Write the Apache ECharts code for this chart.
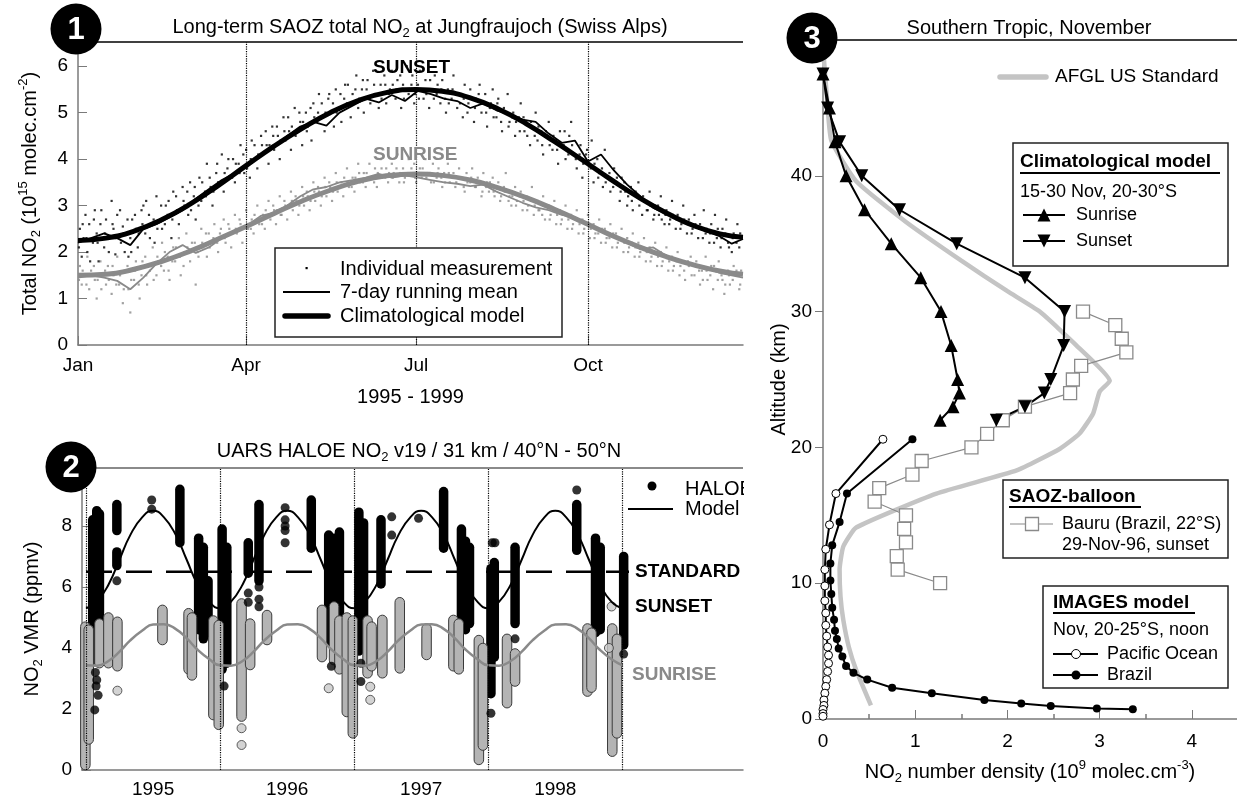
<!DOCTYPE html>
<html><head><meta charset="utf-8">
<script src="https://cdn.jsdelivr.net/npm/echarts@6/dist/echarts.min.js"></script>
<style>html,body{margin:0;padding:0;background:#fff}#c{width:1237px;height:798px}</style>
</head><body><div id="c"></div>
<script>
// ---------------- Panel 1 data ----------------
const monthTickDays = [0, 90, 181, 273];
const monthTickLabels = ['Jan', 'Apr', 'Jul', 'Oct'];
const p1YTicks = [0, 1, 2, 3, 4, 5, 6];
const modelDays = [0,15,30,45,60,75,90,105,120,135,150,165,181,195,210,225,240,255,270,285,300,315,330,345,356];
const sunsetModel = [2.25,2.3,2.45,2.7,3.03,3.43,3.86,4.28,4.66,5.0,5.26,5.43,5.5,5.46,5.32,5.08,4.76,4.38,3.98,3.57,3.18,2.84,2.56,2.38,2.32];
const sunriseModel = [1.5,1.52,1.63,1.8,2.02,2.28,2.55,2.83,3.1,3.33,3.52,3.64,3.68,3.65,3.55,3.38,3.17,2.92,2.65,2.37,2.12,1.9,1.72,1.58,1.52];
const runDays = [0,7,14,21,28,35,42,49,56,63,70,77,84,91,98,105,112,119,126,133,140,147,154,161,168,175,182,189,196,203,210,217,224,231,238,245,252,259,266,273,280,287,294,301,308,315,322,329,336,343,350,356];
const sunsetRun = [2.2,2.3,2.4,2.3,2.15,2.5,2.6,2.75,2.9,3.15,3.35,3.55,3.7,3.9,4.1,4.25,4.5,4.7,4.8,4.72,5.0,5.15,5.3,5.22,5.38,5.25,5.47,5.4,5.3,5.25,5.1,5.2,5.05,4.97,4.85,4.8,4.55,4.35,4.4,3.95,4.1,3.75,3.45,3.2,2.95,2.82,2.7,2.56,2.45,2.35,2.18,2.28];
const sunriseRun = [1.45,1.5,1.45,1.38,1.2,1.45,1.75,2.0,2.15,1.98,2.1,2.3,2.42,2.58,2.78,2.85,3.0,3.2,3.35,3.4,3.5,3.55,3.6,3.68,3.6,3.65,3.6,3.55,3.5,3.47,3.42,3.45,3.3,3.18,3.06,2.96,2.9,2.8,2.74,2.6,2.47,2.36,2.2,2.06,2.1,1.92,1.8,1.72,1.65,1.56,1.5,1.45];
const sunsetDots = [[1,2.5],[2,1.9],[3,2.3],[4,2.8],[5,2.0],[6,2.6],[8,2.2],[9,2.9],[10,2.4],[11,1.8],[12,2.6],[14,2.1],[15,2.7],[16,2.35],[18,3.1],[19,2.5],[20,1.95],[21,2.8],[23,2.2],[24,2.55],[25,2.0],[27,1.9],[28,2.3],[29,2.7],[31,2.5],[32,2.1],[34,2.9],[35,3.0],[36,2.4],[38,2.8],[39,2.6],[41,2.2],[42,3.2],[44,2.7],[45,2.5],[47,3.0],[48,2.8],[50,2.3],[51,3.3],[53,2.9],[54,2.6],[56,3.4],[57,3.0],[59,2.8],[60,3.5],[62,3.2],[63,2.7],[65,3.6],[66,3.1],[68,3.3],[69,3.9],[71,3.4],[72,3.0],[74,3.7],[75,3.5],[77,4.1],[78,3.3],[80,3.8],[81,3.6],[83,4.0],[84,3.5],[86,3.9],[87,4.3],[89,3.7],[90,4.2],[92,3.6],[93,4.4],[95,4.0],[96,3.8],[98,4.5],[99,4.1],[101,4.3],[102,3.9],[104,4.7],[105,4.2],[107,4.5],[108,4.0],[110,4.9],[111,4.4],[113,4.6],[114,4.2],[116,5.1],[117,4.6],[119,4.8],[120,4.3],[122,5.0],[123,4.7],[125,4.4],[126,5.2],[128,4.8],[129,5.4],[131,4.9],[132,4.6],[134,5.3],[135,5.0],[137,4.7],[138,5.5],[140,5.1],[141,4.8],[143,5.6],[144,5.2],[146,4.9],[147,5.4],[149,5.8],[150,5.1],[152,5.5],[153,5.0],[155,5.7],[156,5.3],[158,5.9],[159,5.4],[161,5.1],[162,5.6],[164,5.8],[165,5.2],[167,5.5],[168,5.9],[170,5.3],[171,5.7],[173,5.1],[174,5.6],[176,6.0],[177,5.4],[179,5.8],[180,5.2],[182,5.6],[183,5.9],[185,5.3],[186,5.7],[188,5.1],[189,5.5],[191,5.8],[192,5.4],[194,5.2],[195,5.7],[197,5.0],[198,5.5],[200,5.3],[201,5.8],[203,5.1],[204,5.4],[206,4.9],[207,5.6],[209,5.2],[210,5.5],[212,4.8],[213,5.3],[215,5.6],[216,5.0],[218,5.4],[219,4.7],[221,5.2],[222,5.5],[224,4.9],[225,5.3],[227,4.6],[228,5.1],[230,5.4],[231,4.8],[233,5.0],[234,4.5],[236,4.9],[237,5.2],[239,4.6],[240,4.8],[242,4.3],[243,4.7],[245,5.0],[246,4.4],[248,4.6],[249,4.1],[251,4.5],[252,4.8],[254,4.2],[255,4.4],[257,3.9],[258,4.6],[260,4.3],[261,4.0],[263,4.5],[264,4.8],[266,4.1],[267,3.8],[269,4.3],[270,3.6],[272,4.1],[273,3.9],[275,4.4],[276,3.5],[278,4.0],[279,3.7],[281,3.4],[282,4.2],[284,3.6],[285,3.3],[287,3.8],[288,3.5],[290,3.1],[291,3.6],[293,3.3],[294,3.0],[296,3.4],[297,2.9],[299,3.2],[300,3.5],[302,2.8],[303,3.1],[305,2.9],[306,3.3],[308,2.7],[309,3.0],[311,2.8],[312,3.2],[314,2.6],[315,2.9],[317,2.7],[318,3.1],[320,2.5],[321,2.8],[323,2.6],[324,3.0],[326,2.4],[327,2.7],[329,2.5],[330,2.8],[332,2.3],[333,2.6],[335,2.9],[336,2.4],[338,2.2],[339,2.6],[341,2.8],[342,2.3],[344,2.1],[345,2.5],[347,2.7],[348,2.2],[350,2.0],[351,2.4],[353,2.6],[354,2.1],[355,2.3]];
const sunsetDots2 = [[0.5,2.1],[2.5,2.6],[4.5,2.3],[6.5,1.8],[8.5,2.7],[10.5,2.2],[12.5,2.9],[14.5,2.4],[16.5,2.0],[18.5,2.6],[20.5,2.3],[22.5,2.9],[24.5,2.4],[26.5,2.7],[28.5,2.0],[30.5,2.8],[32.5,2.4],[34.5,2.6],[36.5,3.1],[38.5,2.3],[40.5,2.7],[42.5,2.5],[44.5,3.0],[46.5,2.6],[48.5,3.1],[50.5,2.7],[52.5,3.2],[54.5,2.9],[56.5,3.1],[58.5,3.3],[60.5,2.9],[62.5,3.4],[64.5,3.0],[66.5,3.5],[68.5,3.2],[70.5,3.6],[72.5,3.3],[74.5,3.9],[76.5,3.5],[78.5,3.7],[80.5,4.0],[82.5,3.6],[84.5,3.9],[86.5,3.7],[88.5,4.1],[90.5,3.8],[92.5,4.0],[94.5,4.3],[96.5,4.1],[98.5,4.3],[100.5,4.6],[102.5,4.3],[104.5,4.5],[106.5,4.7],[108.5,4.4],[110.5,4.6],[112.5,4.9],[114.5,4.7],[116.5,4.5],[118.5,5.0],[120.5,4.8],[122.5,4.6],[124.5,5.1],[126.5,4.9],[128.5,5.0],[130.5,5.2],[132.5,5.0],[134.5,5.4],[136.5,5.2],[138.5,5.0],[140.5,5.4],[142.5,5.3],[144.5,5.6],[146.5,5.2],[148.5,5.5],[150.5,5.3],[152.5,5.7],[154.5,5.5],[156.5,5.2],[158.5,5.6],[160.5,5.4],[162.5,5.3],[164.5,5.6],[166.5,5.4],[168.5,5.6],[170.5,5.5],[172.5,5.8],[174.5,5.3],[176.5,5.5],[178.5,5.6],[180.5,5.4],[182.5,5.3],[184.5,5.5],[186.5,5.4],[188.5,5.7],[190.5,5.3],[192.5,5.6],[194.5,5.5],[196.5,5.3],[198.5,5.2],[200.5,5.5],[202.5,5.4],[204.5,5.2],[206.5,5.3],[208.5,5.0],[210.5,5.3],[212.5,5.1],[214.5,5.4],[216.5,5.2],[218.5,5.0],[220.5,5.1],[222.5,4.9],[224.5,5.2],[226.5,4.8],[228.5,5.0],[230.5,4.7],[232.5,4.9],[234.5,4.8],[236.5,4.6],[238.5,4.9],[240.5,4.5],[242.5,4.8],[244.5,4.5],[246.5,4.7],[248.5,4.3],[250.5,4.6],[252.5,4.3],[254.5,4.5],[256.5,4.2],[258.5,4.3],[260.5,4.6],[262.5,4.1],[264.5,4.3],[266.5,4.0],[268.5,4.1],[270.5,3.9],[272.5,4.2],[274.5,3.8],[276.5,3.9],[278.5,3.6],[280.5,3.8],[282.5,3.5],[284.5,3.7],[286.5,3.4],[288.5,3.6],[290.5,3.3],[292.5,3.5],[294.5,3.2],[296.5,3.1],[298.5,3.3],[300.5,3.0],[302.5,3.2],[304.5,2.9],[306.5,3.0],[308.5,2.8],[310.5,3.0],[312.5,2.7],[314.5,2.8],[316.5,2.6],[318.5,2.8],[320.5,2.7],[322.5,2.5],[324.5,2.7],[326.5,2.6],[328.5,2.4],[330.5,2.6],[332.5,2.5],[334.5,2.3],[336.5,2.5],[338.5,2.4],[340.5,2.2],[342.5,2.5],[344.5,2.3],[346.5,2.4],[348.5,2.1],[350.5,2.3],[352.5,2.2],[354.5,2.4]];
const sunriseDots = [[1,1.7],[2,1.3],[3,1.5],[5,1.9],[6,1.2],[7,1.6],[9,1.4],[10,1.0],[12,1.8],[13,1.5],[15,1.3],[16,1.7],[18,1.1],[19,1.5],[21,1.9],[22,1.3],[24,0.9],[25,1.6],[27,1.2],[28,0.7],[30,1.4],[31,1.8],[33,1.0],[34,1.5],[36,1.9],[37,1.3],[39,1.7],[40,2.1],[42,1.5],[43,1.8],[45,2.2],[46,1.6],[48,1.9],[49,1.4],[51,2.1],[52,1.8],[54,2.3],[55,1.5],[57,2.0],[58,2.4],[60,1.8],[61,2.2],[63,1.3],[64,2.0],[66,2.5],[67,2.1],[69,1.9],[70,2.4],[72,2.2],[73,2.6],[75,2.0],[76,2.4],[78,2.7],[79,2.2],[81,2.5],[82,2.1],[84,2.8],[85,2.4],[87,2.6],[88,2.2],[90,2.9],[91,2.5],[93,2.7],[94,2.4],[96,3.0],[97,2.6],[99,2.8],[100,2.5],[102,3.1],[103,2.7],[105,2.9],[106,2.6],[108,3.2],[109,2.8],[111,3.0],[112,2.7],[114,3.3],[115,2.9],[117,3.1],[118,2.8],[120,3.4],[121,3.0],[123,3.2],[124,2.9],[126,3.5],[127,3.1],[129,3.3],[130,3.0],[132,3.6],[133,3.2],[135,3.4],[136,3.1],[138,3.7],[139,3.3],[141,3.5],[142,3.2],[144,3.8],[145,3.4],[147,3.6],[148,3.3],[150,3.9],[151,3.5],[153,3.7],[154,3.4],[156,3.9],[157,3.6],[159,3.8],[160,3.4],[162,4.0],[163,3.6],[165,3.8],[166,3.5],[168,3.9],[169,3.7],[171,4.1],[172,3.5],[174,3.8],[175,3.6],[177,4.0],[178,3.7],[180,3.9],[181,3.5],[183,3.8],[184,3.6],[186,4.0],[187,3.7],[189,3.5],[190,3.9],[192,3.6],[193,3.8],[195,3.4],[196,3.7],[198,3.9],[199,3.5],[201,3.7],[202,3.4],[204,3.8],[205,3.6],[207,3.3],[208,3.7],[210,3.5],[211,3.8],[213,3.4],[214,3.6],[216,3.2],[217,3.7],[219,3.5],[220,3.3],[222,3.6],[223,3.2],[225,3.5],[226,3.1],[228,3.4],[229,3.7],[231,3.2],[232,3.0],[234,3.4],[235,3.1],[237,3.3],[238,2.9],[240,3.2],[241,3.0],[243,3.4],[244,2.8],[246,3.1],[247,2.9],[249,3.2],[250,2.7],[252,3.0],[253,2.8],[255,3.1],[256,2.6],[258,2.9],[259,2.7],[261,3.0],[262,2.5],[264,2.8],[265,2.6],[267,2.9],[268,2.4],[270,2.7],[271,2.5],[273,2.8],[274,2.3],[276,2.6],[277,2.4],[279,2.7],[280,2.2],[282,2.5],[283,2.3],[285,2.6],[286,2.1],[288,2.4],[289,2.2],[291,2.5],[292,2.0],[294,2.3],[295,2.1],[297,2.4],[298,1.9],[300,2.2],[301,2.0],[303,2.3],[304,1.8],[306,2.1],[307,1.9],[309,2.2],[310,1.7],[312,2.0],[313,1.8],[315,2.1],[316,1.6],[318,1.9],[319,1.7],[321,2.0],[322,1.5],[324,1.8],[325,1.4],[327,1.7],[328,1.9],[330,1.5],[331,1.8],[333,1.3],[334,1.6],[336,1.9],[337,1.4],[339,1.7],[340,1.2],[342,1.6],[343,1.8],[345,1.4],[346,1.1],[348,1.6],[349,1.3],[351,1.7],[352,1.5],[354,1.2],[355,1.6]];
const sunriseDots2 = [[0.5,1.4],[2.5,1.6],[4.5,1.3],[6.5,1.5],[8.5,1.7],[10.5,1.4],[12.5,1.2],[14.5,1.6],[16.5,1.4],[18.5,1.7],[20.5,1.3],[22.5,1.5],[24.5,1.2],[26.5,1.7],[28.5,1.4],[30.5,1.6],[32.5,1.3],[34.5,1.8],[36.5,1.5],[38.5,1.6],[40.5,1.4],[42.5,1.9],[44.5,1.7],[46.5,2.0],[48.5,1.6],[50.5,1.8],[52.5,2.1],[54.5,1.9],[56.5,1.7],[58.5,2.1],[60.5,2.0],[62.5,2.2],[64.5,1.9],[66.5,2.2],[68.5,2.4],[70.5,2.1],[72.5,2.3],[74.5,2.2],[76.5,2.5],[78.5,2.3],[80.5,2.6],[82.5,2.4],[84.5,2.5],[86.5,2.7],[88.5,2.5],[90.5,2.6],[92.5,2.5],[94.5,2.8],[96.5,2.7],[98.5,2.6],[100.5,2.9],[102.5,2.8],[104.5,3.0],[106.5,2.9],[108.5,2.8],[110.5,3.1],[112.5,3.0],[114.5,3.1],[116.5,3.2],[118.5,3.0],[120.5,3.2],[122.5,3.3],[124.5,3.1],[126.5,3.3],[128.5,3.4],[130.5,3.2],[132.5,3.4],[134.5,3.5],[136.5,3.3],[138.5,3.5],[140.5,3.4],[142.5,3.6],[144.5,3.5],[146.5,3.4],[148.5,3.6],[150.5,3.7],[152.5,3.5],[154.5,3.7],[156.5,3.6],[158.5,3.5],[160.5,3.7],[162.5,3.8],[164.5,3.6],[166.5,3.7],[168.5,3.6],[170.5,3.8],[172.5,3.7],[174.5,3.5],[176.5,3.7],[178.5,3.8],[180.5,3.6],[182.5,3.7],[184.5,3.8],[186.5,3.6],[188.5,3.7],[190.5,3.5],[192.5,3.7],[194.5,3.6],[196.5,3.5],[198.5,3.7],[200.5,3.6],[202.5,3.5],[204.5,3.6],[206.5,3.4],[208.5,3.5],[210.5,3.6],[212.5,3.4],[214.5,3.5],[216.5,3.3],[218.5,3.4],[220.5,3.5],[222.5,3.3],[224.5,3.4],[226.5,3.2],[228.5,3.3],[230.5,3.1],[232.5,3.2],[234.5,3.0],[236.5,3.2],[238.5,3.1],[240.5,2.9],[242.5,3.1],[244.5,3.0],[246.5,2.9],[248.5,2.8],[250.5,3.0],[252.5,2.7],[254.5,2.9],[256.5,2.8],[258.5,2.6],[260.5,2.8],[262.5,2.7],[264.5,2.5],[266.5,2.7],[268.5,2.6],[270.5,2.4],[272.5,2.6],[274.5,2.5],[276.5,2.3],[278.5,2.4],[280.5,2.5],[282.5,2.2],[284.5,2.3],[286.5,2.4],[288.5,2.1],[290.5,2.3],[292.5,2.2],[294.5,2.0],[296.5,2.2],[298.5,2.1],[300.5,1.9],[302.5,2.1],[304.5,2.0],[306.5,1.8],[308.5,2.0],[310.5,1.9],[312.5,1.7],[314.5,1.9],[316.5,1.8],[318.5,1.6],[320.5,1.8],[322.5,1.7],[324.5,1.6],[326.5,1.8],[328.5,1.5],[330.5,1.7],[332.5,1.6],[334.5,1.4],[336.5,1.6],[338.5,1.5],[340.5,1.7],[342.5,1.4],[344.5,1.5],[346.5,1.3],[348.5,1.5],[350.5,1.4],[352.5,1.6],[354.5,1.3]];

// ---------------- Panel 2 data ----------------
const yearLines = [1995, 1996, 1997, 1998, 1999];
const yearLabelPos = [1995.5, 1996.5, 1997.5, 1998.5];
const p2YTicks = [0, 2, 4, 6, 8];
const modelT = [1995.00,1995.08,1995.17,1995.25,1995.33,1995.42,1995.50,1995.58,1995.67,1995.75,1995.83,1995.92,
  1996.00,1996.08,1996.17,1996.25,1996.33,1996.42,1996.50,1996.58,1996.67,1996.75,1996.83,1996.92,
  1997.00,1997.08,1997.17,1997.25,1997.33,1997.42,1997.50,1997.58,1997.67,1997.75,1997.83,1997.92,
  1998.00,1998.08,1998.17,1998.25,1998.33,1998.42,1998.50,1998.58,1998.67,1998.75,1998.83,1998.92,1999.00];
const sunsetModel2 = [5.3,5.51,6.1,6.9,7.7,8.29,8.5,8.29,7.7,6.9,6.1,5.51,
  5.3,5.51,6.1,6.9,7.7,8.29,8.5,8.29,7.7,6.9,6.1,5.51,
  5.3,5.51,6.1,6.9,7.7,8.29,8.5,8.29,7.7,6.9,6.1,5.51,
  5.3,5.51,6.1,6.9,7.7,8.29,8.5,8.29,7.7,6.9,6.1,5.51,5.3];
const sunriseModel2 = [3.43,3.42,3.58,3.88,4.25,4.57,4.77,4.78,4.62,4.32,3.95,3.63,
  3.43,3.42,3.58,3.88,4.25,4.57,4.77,4.78,4.62,4.32,3.95,3.63,
  3.43,3.42,3.58,3.88,4.25,4.57,4.77,4.78,4.62,4.32,3.95,3.63,
  3.43,3.42,3.58,3.88,4.25,4.57,4.77,4.78,4.62,4.32,3.95,3.63,3.43];
const standardLevel = 6.5;
const standardSpan = [1995.0, 1999.05];
// HALOE occultation sweeps: [time, lowest value, highest value]
const haloeSunsetSweeps = [[1995.05,3.7,8.2],[1995.08,3.6,8.5],[1995.10,3.9,8.4],[1995.23,7.85,8.7],[1995.23,6.7,7.15],[1995.70,7.45,9.2],[1995.84,4.6,7.6],[1995.875,4.3,7.3],[1995.91,4.5,6.2],[1996.015,3.3,7.9],[1996.05,3.5,7.3],[1996.21,6.45,7.45],[1996.29,6.2,8.7],[1996.68,7.27,8.85],[1996.81,4.2,7.7],[1996.85,3.95,7.6],[1996.89,4.6,7.8],[1997.035,3.9,8.45],[1997.07,4.3,8.1],[1997.2,6.1,8.2],[1997.667,7.27,9.13],[1997.80,5.0,7.9],[1997.83,4.6,7.5],[1997.86,4.8,7.3],[1998.02,2.5,6.6],[1998.045,3.7,6.8],[1998.2,4.8,7.3],[1998.66,7.2,8.7],[1998.80,4.5,7.6],[1998.835,4.6,7.3],[1999.01,4.1,7.0]];
const haloeSunsetPoints = [[1995.07,3.2],[1995.08,2.95],[1995.075,2.75],[1995.09,2.45],[1995.065,1.97],[1995.23,6.2],[1995.49,8.85],[1995.49,8.55],[1996.03,2.75],[1996.21,5.8],[1996.21,5.5],[1996.29,6.0],[1996.29,5.6],[1996.29,5.35],[1996.485,8.6],[1996.485,8.2],[1996.485,8.0],[1996.485,7.85],[1996.485,7.45],[1996.83,3.4],[1997.05,3.5],[1997.05,2.9],[1997.28,8.3],[1997.28,7.7],[1997.48,8.25],[1998.03,7.45],[1998.02,1.86],[1998.05,7.45],[1998.2,4.3],[1998.66,9.18],[1999.01,3.8]];
const haloeSunriseSweeps = [[1994.995,0.16,4.7],[1995.02,1.0,4.6],[1995.1,3.5,4.8],[1995.167,3.5,5.0],[1995.234,3.4,4.86],[1995.57,4.26,5.25],[1995.765,3.3,5.14],[1995.79,3.1,5.0],[1995.95,1.8,4.9],[1995.99,1.48,4.75],[1996.16,1.75,5.46],[1996.224,3.44,4.8],[1996.35,4.26,5.08],[1996.76,3.7,5.25],[1996.85,3.6,5.36],[1996.89,3.3,4.9],[1996.945,1.9,5.0],[1996.99,1.2,4.9],[1997.1,3.17,4.9],[1997.13,3.4,4.7],[1997.21,3.17,4.92],[1997.34,3.33,5.5],[1997.54,3.77,4.64],[1997.74,3.4,4.92],[1997.78,3.3,4.8],[1997.93,0.33,4.26],[1997.96,0.8,4.0],[1998.14,2.19,4.3],[1998.2,2.9,3.82],[1998.74,2.57,4.64],[1998.77,2.7,4.5],[1998.925,0.6,4.64],[1998.96,1.2,4.3]];
const haloeSunrisePoints = [[1995.234,2.6],[1996.16,1.37],[1996.16,0.82],[1996.81,2.68],[1997.12,2.73],[1997.12,2.3],[1998.92,5.36],[1998.9,4.0]];

// ---------------- Panel 3 data ([density, altitude]) ----------------
const p3XTicks = [0, 1, 2, 3, 4];
const p3XMinor = [0.5, 1.5, 2.5, 3.5];
const p3YTicks = [0, 10, 20, 30, 40];
const p3YMinor = [5, 15, 25, 35, 45];
const afglStandard = [[0.0,49.5],[0.04,46],[0.09,42.6],[0.36,39.6],[0.9,36.6],[1.5,33.75],[2.0,31.5],[2.35,30],[2.75,27.5],[3.11,24.9],[3.0,24.1],[2.93,22.5],[2.78,21],[2.57,19.9],[2.1,18.3],[1.23,16.6],[0.36,14.1],[0.22,12.7],[0.18,11],[0.19,9],[0.22,7.3],[0.28,5.3],[0.36,3.6],[0.52,1.0]];
const climSunrise = [[0.0,47.5],[0.07,45],[0.13,42.5],[0.25,40],[0.45,37.5],[0.74,35],[1.06,32.5],[1.28,30],[1.39,27.5],[1.46,25],[1.48,24],[1.41,23],[1.27,22]];
const climSunset = [[0.0,47.5],[0.05,45],[0.18,42.5],[0.42,40],[0.83,37.5],[1.45,35],[2.19,32.5],[2.62,30],[2.61,27.5],[2.47,25],[2.4,24],[2.19,23],[1.88,22]];
const saozBauru = [[2.82,30],[3.17,29],[3.24,28],[3.29,27],[2.8,26],[2.71,25],[2.68,24],[2.19,23],[1.95,22],[1.78,21],[1.61,20],[1.07,19],[0.97,18],[0.61,17],[0.56,16],[0.9,15],[0.88,14],[0.9,13],[0.8,12],[0.81,11],[1.27,10]];
const imagesPacific = [[0.65,20.6],[0.14,16.6],[0.07,14.3],[0.03,12.5],[0.02,11],[0.02,9.8],[0.02,8.7],[0.03,7.8],[0.03,6.9],[0.04,6.1],[0.05,5.3],[0.06,4.7],[0.06,4.1],[0.05,3.5],[0.04,2.9],[0.03,2.4],[0.02,1.9],[0.01,1.4],[0.01,1.0],[0.0,0.7],[0.0,0.4],[0.0,0.2]];
const imagesBrazil = [[0.97,20.6],[0.26,16.6],[0.18,14.5],[0.10,12.8],[0.08,11.45],[0.08,10.2],[0.09,9.2],[0.10,8.2],[0.12,7.3],[0.13,6.5],[0.15,5.9],[0.17,5.2],[0.21,4.6],[0.25,3.9],[0.33,3.4],[0.48,2.9],[0.75,2.3],[1.18,1.9],[1.75,1.4],[2.15,1.15],[2.47,0.96],[2.97,0.78],[3.36,0.71]];

// ---------------- helpers ----------------
const FF = '"Liberation Sans", Arial, Helvetica, sans-serif';
function zip(xs, ys) { return xs.map((x, i) => [x, ys[i]]); }
function rich(size, weight, color) {
  const s = Math.round(size * 0.66);
  color = color || '#000';
  return {
    n: { fontSize: size, fontFamily: FF, fontWeight: weight || 'normal', lineHeight: size + 6, color: color, fill: color },
    b: { fontSize: size, fontFamily: FF, fontWeight: 'bold', lineHeight: size + 6, color: color, fill: color },
    sub: { fontSize: s, fontFamily: FF, lineHeight: s + 1, verticalAlign: 'bottom', color: color, fill: color },
    sup: { fontSize: s, fontFamily: FF, lineHeight: s + 1, verticalAlign: 'top', color: color, fill: color }
  };
}
function txt(x, y, text, o) {
  o = o || {};
  const size = o.size || 19, align = o.align || 'left', color = o.color || '#000';
  return { type: 'text', x: x, y: y, z: 110, silent: true,
    style: { text: text, fill: color, fontFamily: FF, fontSize: size, fontWeight: o.weight || 'normal',
      align: align, textAlign: align, verticalAlign: 'middle', textVerticalAlign: 'middle',
      rich: o.rich ? rich(size, o.weight, color) : undefined } };
}
function hline(x1, x2, y, color, w, cap) {
  return { type: 'line', z: 105, silent: true, shape: { x1: x1, y1: y, x2: x2, y2: y }, style: { stroke: color, lineWidth: w, lineCap: cap || 'butt' } };
}
function box(x, y, w, h) {
  return { type: 'rect', z: 100, silent: true, shape: { x: x, y: y, width: w, height: h }, style: { fill: '#fff', stroke: '#222', lineWidth: 1.5 } };
}
function badge(cx, cy, label) {
  return [
    { type: 'circle', z: 120, silent: true, shape: { cx: cx, cy: cy, r: 25.5 }, style: { fill: '#000' } },
    { type: 'text', z: 121, silent: true, x: cx, y: cy + 1, style: { text: label, fill: '#fff', fontFamily: FF, fontSize: 31, fontWeight: 'bold', align: 'center', textAlign: 'center', verticalAlign: 'middle', textVerticalAlign: 'middle' } }
  ];
}
function sweepRender(fill, stroke) {
  return function (params, api) {
    const x = api.value(0), lo = api.value(1), hi = api.value(2);
    const top = api.coord([x, hi]), bot = api.coord([x, lo]);
    const w = 9.5;
    const st = { fill: fill };
    if (stroke) { st.stroke = stroke; st.lineWidth = 1; }
    return { type: 'rect', shape: { x: top[0] - w / 2, y: top[1] - w / 2, width: w, height: bot[1] - top[1] + w, r: w / 2 }, style: st };
  };
}
const axisLineGray = { show: true, onZero: false, lineStyle: { color: '#7a7a7a', width: 1.5 } };
const tickLabel = { fontSize: 19, fontFamily: FF, color: '#000' };
const dotted = { type: 'dotted', color: '#000', width: 1.2 };

const option = {
  animation: false,
  backgroundColor: '#fff',
  grid: [
    { left: 78, top: 42, width: 665, height: 303, outerBoundsMode: 'none', containLabel: false },
    { left: 82, top: 468, width: 661, height: 302, outerBoundsMode: 'none', containLabel: false },
    { left: 823, top: 40, width: 414, height: 679, outerBoundsMode: 'none', containLabel: false }
  ],
  xAxis: [
    { type: 'value', gridIndex: 0, min: 0, max: 356, axisLine: axisLineGray, splitLine: { show: false },
      axisTick: { show: true, inside: true, length: 9, customValues: monthTickDays },
      axisLabel: Object.assign({ customValues: monthTickDays, margin: 11,
        formatter: function (v) { let k = 0; monthTickDays.forEach((d, i) => { if (Math.abs(d - v) < 1) k = i; }); return monthTickLabels[k]; } }, tickLabel),
      name: '1995 - 1999', nameLocation: 'middle', nameGap: 42, nameMoveOverlap: false,
      nameTextStyle: { fontSize: 20, fontFamily: FF, color: '#000' } },
    { type: 'value', gridIndex: 1, min: 1994.97, max: 1999.9, axisLine: axisLineGray, splitLine: { show: false },
      axisTick: { show: false },
      axisLabel: Object.assign({ customValues: yearLabelPos, margin: 10, formatter: function (v) { return String(Math.floor(v)); } }, tickLabel) },
    { type: 'value', gridIndex: 2, min: 0, max: 4.49, position: 'bottom', axisLine: axisLineGray, splitLine: { show: false },
      axisTick: { show: true, inside: true, length: 9, customValues: p3XTicks },
      axisLabel: Object.assign({ customValues: p3XTicks, margin: 13 }, tickLabel),
      name: '{n|NO}{sub|2}{n| number density (10}{sup|9}{n| molec.cm}{sup|-3}{n|)}', nameLocation: 'middle', nameGap: 40, nameMoveOverlap: false,
      nameTextStyle: { fontSize: 20, fontFamily: FF, color: '#000', rich: rich(20) } },
    { type: 'value', gridIndex: 2, min: 0, max: 4.49, position: 'bottom', axisLine: { show: false, onZero: false }, splitLine: { show: false },
      axisTick: { show: true, inside: true, length: 5, customValues: p3XMinor, lineStyle: { color: '#7a7a7a', width: 1.5 } },
      axisLabel: { show: false } }
  ],
  yAxis: [
    { type: 'value', gridIndex: 0, min: 0, max: 6.52, axisLine: axisLineGray, splitLine: { show: false },
      axisTick: { show: true, inside: true, length: 9, customValues: p1YTicks },
      axisLabel: Object.assign({ customValues: p1YTicks, margin: 10 }, tickLabel),
      name: '{n|Total NO}{sub|2}{n| (10}{sup|15}{n| molec.cm}{sup|-2}{n|)}', nameLocation: 'middle', nameGap: 35, nameMoveOverlap: false,
      nameTextStyle: { fontSize: 20, fontFamily: FF, color: '#000', rich: rich(20) } },
    { type: 'value', gridIndex: 1, min: 0, max: 9.9, axisLine: axisLineGray, splitLine: { show: false },
      axisTick: { show: true, inside: true, length: 9, customValues: p2YTicks },
      axisLabel: Object.assign({ customValues: p2YTicks, margin: 10 }, tickLabel),
      name: '{n|NO}{sub|2}{n| VMR (ppmv)}', nameLocation: 'middle', nameGap: 37, nameMoveOverlap: false,
      nameTextStyle: { fontSize: 20, fontFamily: FF, color: '#000', rich: rich(20) } },
    { type: 'value', gridIndex: 2, min: 0, max: 50, axisLine: axisLineGray, splitLine: { show: false },
      axisTick: { show: true, inside: false, length: 8, customValues: p3YTicks },
      axisLabel: Object.assign({ customValues: p3YTicks, margin: 11 }, tickLabel),
      name: 'Altitude (km)', nameLocation: 'middle', nameGap: 34, nameMoveOverlap: false,
      nameTextStyle: { fontSize: 20, fontFamily: FF, color: '#000' } },
    { type: 'value', gridIndex: 2, min: 0, max: 50, axisLine: { show: false, onZero: false }, splitLine: { show: false },
      axisTick: { show: true, inside: false, length: 6, customValues: p3YMinor, lineStyle: { color: '#7a7a7a', width: 1.5 } },
      axisLabel: { show: false } }
  ],
  series: [
    // ----- Panel 1 -----
    { type: 'scatter', xAxisIndex: 0, yAxisIndex: 0, data: sunriseDots.concat(sunriseDots2), symbol: 'rect', symbolSize: 2.2, itemStyle: { color: '#8a8a8a' }, silent: true, large: false },
    { type: 'scatter', xAxisIndex: 0, yAxisIndex: 0, data: sunsetDots.concat(sunsetDots2), symbol: 'rect', symbolSize: 2.2, itemStyle: { color: '#000' }, silent: true, large: false },
    { type: 'line', xAxisIndex: 0, yAxisIndex: 0, data: zip(modelDays, sunriseModel), smooth: true, showSymbol: false, lineStyle: { color: '#8a8a8a', width: 5 }, silent: true,
      markLine: { silent: true, symbol: ['none', 'none'], label: { show: false }, lineStyle: dotted, data: monthTickDays.slice(1).map(d => ({ xAxis: d })) } },
    { type: 'line', xAxisIndex: 0, yAxisIndex: 0, data: zip(runDays, sunriseRun), showSymbol: false, lineStyle: { color: '#8a8a8a', width: 1.8 }, silent: true },
    { type: 'line', xAxisIndex: 0, yAxisIndex: 0, data: zip(modelDays, sunsetModel), smooth: true, showSymbol: false, lineStyle: { color: '#000', width: 5 }, silent: true },
    { type: 'line', xAxisIndex: 0, yAxisIndex: 0, data: zip(runDays, sunsetRun), showSymbol: false, lineStyle: { color: '#000', width: 1.8 }, silent: true },
    // ----- Panel 2 -----
    { type: 'custom', xAxisIndex: 1, yAxisIndex: 1, data: haloeSunsetSweeps, renderItem: sweepRender('#000'), encode: { x: 0, y: [1, 2] }, clip: false, silent: true },
    { type: 'scatter', xAxisIndex: 1, yAxisIndex: 1, data: haloeSunsetPoints, symbolSize: 9, itemStyle: { color: '#000' }, silent: true },
    { type: 'custom', xAxisIndex: 1, yAxisIndex: 1, data: haloeSunriseSweeps, renderItem: sweepRender('#b4b4b4', '#3a3a3a'), encode: { x: 0, y: [1, 2] }, clip: false, silent: true },
    { type: 'scatter', xAxisIndex: 1, yAxisIndex: 1, data: haloeSunrisePoints, symbolSize: 9, itemStyle: { color: '#c8c8c8', borderColor: '#3a3a3a', borderWidth: 1 }, silent: true },
    { type: 'line', xAxisIndex: 1, yAxisIndex: 1, data: standardSpan.map(t => [t, standardLevel]), showSymbol: false, lineStyle: { color: '#000', width: 2.5, type: [26, 14] }, silent: true,
      markLine: { silent: true, symbol: ['none', 'none'], label: { show: false }, lineStyle: dotted, data: yearLines.map(t => ({ xAxis: t })) } },
    { type: 'line', xAxisIndex: 1, yAxisIndex: 1, data: zip(modelT, sunriseModel2), smooth: true, showSymbol: false, lineStyle: { color: '#8a8a8a', width: 2.5 }, silent: true },
    { type: 'line', xAxisIndex: 1, yAxisIndex: 1, data: zip(modelT, sunsetModel2), smooth: true, showSymbol: false, lineStyle: { color: '#000', width: 2 }, silent: true },
    // ----- Panel 3 -----
    { type: 'line', xAxisIndex: 2, yAxisIndex: 2, data: afglStandard, showSymbol: false, smooth: 0.15, lineStyle: { color: '#c4c4c4', width: 4.5 }, silent: true },
    { type: 'line', xAxisIndex: 2, yAxisIndex: 2, data: saozBauru, symbol: 'rect', symbolSize: 13, showSymbol: true, lineStyle: { color: '#8a8a8a', width: 1.2 }, itemStyle: { color: '#fff', borderColor: '#8a8a8a', borderWidth: 1.3 }, silent: true },
    { type: 'line', xAxisIndex: 2, yAxisIndex: 2, data: climSunrise, symbol: 'triangle', symbolSize: 13, showSymbol: true, lineStyle: { color: '#000', width: 2 }, itemStyle: { color: '#000' }, silent: true },
    { type: 'line', xAxisIndex: 2, yAxisIndex: 2, data: climSunset, symbol: 'triangle', symbolRotate: 180, symbolSize: 13, showSymbol: true, lineStyle: { color: '#000', width: 2 }, itemStyle: { color: '#000' }, silent: true },
    { type: 'line', xAxisIndex: 2, yAxisIndex: 2, data: imagesBrazil, symbol: 'circle', symbolSize: 8, showSymbol: true, lineStyle: { color: '#000', width: 2 }, itemStyle: { color: '#000' }, silent: true },
    { type: 'line', xAxisIndex: 2, yAxisIndex: 2, data: imagesPacific, symbol: 'circle', symbolSize: 8, showSymbol: true, lineStyle: { color: '#000', width: 2 }, itemStyle: { color: '#fff', borderColor: '#000', borderWidth: 1 }, silent: true }
  ],
  graphic: [].concat(
    [hline(78, 743, 42, '#000', 1.5), hline(82, 743, 468, '#8a8a8a', 2), hline(823, 1237, 40, '#000', 1.5)],
    [txt(420, 27, '{n|Long-term SAOZ total NO}{sub|2}{n| at Jungfraujoch (Swiss Alps)}', { size: 20, align: 'center', rich: true }),
     txt(419, 451, '{n|UARS HALOE NO}{sub|2}{n| v19 / 31 km / 40°N - 50°N}', { size: 20, align: 'center', rich: true }),
     txt(1029, 28, 'Southern Tropic, November', { size: 20, align: 'center' })],
    [txt(373, 68, 'SUNSET', { size: 19, weight: 'bold' }),
     txt(373, 155, 'SUNRISE', { size: 19, weight: 'bold', color: '#8a8a8a' })],
    [box(275, 248, 287, 89),
     { type: 'rect', z: 105, silent: true, shape: { x: 305.5, y: 267, width: 2.2, height: 2.2 }, style: { fill: '#000' } },
     hline(283, 330, 292, '#000', 1.8), hline(285, 328, 316, '#000', 5.5, 'round'),
     txt(340, 269, 'Individual measurement', { size: 20 }),
     txt(340, 292, '7-day running mean', { size: 20 }),
     txt(340, 316, 'Climatological model', { size: 20 })],
    [txt(635, 572, 'STANDARD', { size: 19, weight: 'bold' }),
     txt(635, 607, 'SUNSET', { size: 19, weight: 'bold' }),
     txt(632, 675, 'SUNRISE', { size: 19, weight: 'bold', color: '#8a8a8a' }),
     { type: 'circle', z: 105, silent: true, shape: { cx: 652, cy: 486, r: 4.5 }, style: { fill: '#000' } },
     txt(685, 489, 'HALOE', { size: 20 }),
     hline(628, 673, 509, '#000', 2),
     txt(685, 509, 'Model', { size: 20 }),
     { type: 'rect', z: 130, silent: true, shape: { x: 744, y: 474, width: 22, height: 30 }, style: { fill: '#fff' } }],
    [hline(1000, 1046, 77, '#c4c4c4', 5.5, 'round'),
     txt(1055, 77, 'AFGL US Standard', { size: 19 }),
     box(1013, 143, 215, 123),
     txt(1020, 162, 'Climatological model', { size: 19, weight: 'bold' }),
     hline(1020, 1220, 173, '#000', 2),
     txt(1020, 192, '15-30 Nov, 20-30°S', { size: 18 }),
     hline(1023, 1065, 215, '#000', 2),
     { type: 'polygon', z: 106, silent: true, shape: { points: [[1044, 208.5], [1037.5, 221.5], [1050.5, 221.5]] }, style: { fill: '#000' } },
     txt(1076, 215, 'Sunrise', { size: 18 }),
     hline(1023, 1065, 241, '#000', 2),
     { type: 'polygon', z: 106, silent: true, shape: { points: [[1037.5, 234.5], [1050.5, 234.5], [1044, 247.5]] }, style: { fill: '#000' } },
     txt(1076, 241, 'Sunset', { size: 18 }),
     box(1003, 480, 225, 78),
     txt(1009, 497, 'SAOZ-balloon', { size: 19, weight: 'bold' }),
     hline(1009, 1141, 507, '#000', 2),
     hline(1010, 1053, 524, '#8a8a8a', 1.2),
     { type: 'rect', z: 106, silent: true, shape: { x: 1025.5, y: 517.5, width: 13, height: 13 }, style: { fill: '#fff', stroke: '#8a8a8a', lineWidth: 1.3 } },
     txt(1062, 524, 'Bauru (Brazil, 22°S)', { size: 18 }),
     txt(1062, 545, '29-Nov-96, sunset', { size: 18 }),
     box(1043, 586, 185, 102),
     txt(1053, 603, 'IMAGES model', { size: 19, weight: 'bold' }),
     hline(1053, 1195, 613, '#000', 2),
     txt(1053, 630, 'Nov, 20-25°S, noon', { size: 18 }),
     hline(1053, 1098, 654, '#000', 2),
     { type: 'circle', z: 106, silent: true, shape: { cx: 1076, cy: 654, r: 4.5 }, style: { fill: '#fff', stroke: '#000', lineWidth: 1 } },
     txt(1107, 654, 'Pacific Ocean', { size: 18 }),
     hline(1053, 1098, 675, '#000', 2),
     { type: 'circle', z: 106, silent: true, shape: { cx: 1076, cy: 675, r: 4.5 }, style: { fill: '#000' } },
     txt(1107, 675, 'Brazil', { size: 18 })],
    badge(76, 29, '1'), badge(71, 467, '2'), badge(812, 38, '3')
  )
};
const chart = echarts.init(document.getElementById('c'), null, { renderer: 'canvas' });
chart.setOption(option);
</script></body></html>
